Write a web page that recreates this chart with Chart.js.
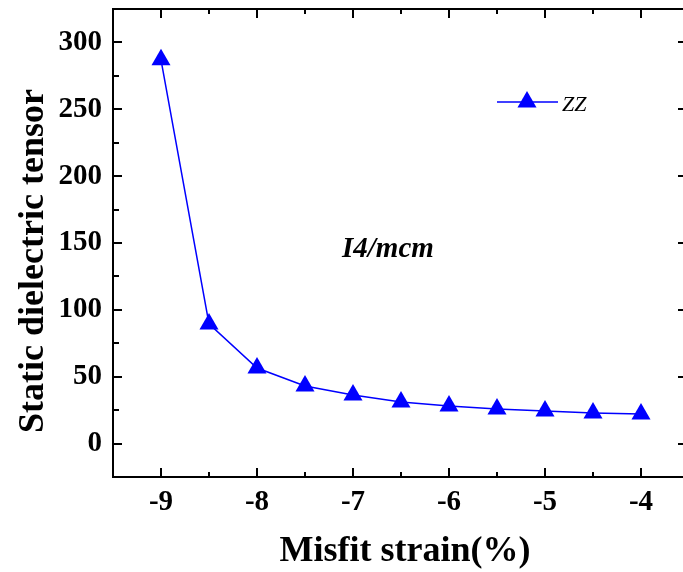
<!DOCTYPE html>
<html>
<head>
<meta charset="utf-8">
<title>Static dielectric tensor vs misfit strain</title>
<script src="https://cdn.jsdelivr.net/npm/chart.js@4/dist/chart.umd.min.js"></script>
<style>
  body { margin: 0; background: #fff; }
  canvas { display: block; }
</style>
</head>
<body>
<canvas id="chart" width="683" height="572"></canvas>
<script>
// Data
const misfitStrain = [-9, -8.5, -8, -7.5, -7, -6.5, -6, -5.5, -5, -4.5, -4];
const zzValues = [287, 89.5, 56.5, 43, 36.3, 31.1, 28.1, 25.8, 24.3, 22.9, 22.1];
const xTickValues = [-9, -8, -7, -6, -5, -4];
const yTickValues = [0, 50, 100, 150, 200, 250, 300];
const seriesLabel = 'ZZ';
const phaseLabel = 'I4/mcm';
const xTitle = 'Misfit strain(%)';
const yTitle = 'Static dielectric tensor';

const BLUE = '#0000ff';
const SERIF = '"Liberation Serif", "Times New Roman", serif';

// Inward ticks, top line, right ticks, titles, legend and label
const framePlugin = {
    id: 'frame',
    afterDraw(chart) {
        const ctx = chart.ctx;
        const area = chart.chartArea;
        const xs = chart.scales.x;
        const ys = chart.scales.y;
        ctx.save();
        ctx.strokeStyle = '#000';
        ctx.lineWidth = 2;

        // top line
        ctx.beginPath();
        ctx.moveTo(area.left - 1, area.top);
        ctx.lineTo(area.right, area.top);
        ctx.stroke();

        // x ticks (bottom and top), major every 1, minor every 0.5
        for (let v = -9.5; v <= xs.max + 1e-6; v += 0.5) {
            const px = Math.round(xs.getPixelForValue(v));
            const len = Number.isInteger(v) ? 9 : 5;
            ctx.beginPath();
            ctx.moveTo(px, area.bottom);
            ctx.lineTo(px, area.bottom - len);
            ctx.moveTo(px, area.top);
            ctx.lineTo(px, area.top + len);
            ctx.stroke();
        }

        // y ticks on the left, major every 50, minor every 25
        for (let v = -25; v <= 325; v += 25) {
            const py = Math.round(ys.getPixelForValue(v));
            const len = v % 50 === 0 ? 9 : 6;
            ctx.beginPath();
            ctx.moveTo(area.left, py);
            ctx.lineTo(area.left + len, py);
            ctx.stroke();
        }
        // right side stubs at majors
        yTickValues.forEach(v => {
            const py = Math.round(ys.getPixelForValue(v));
            ctx.beginPath();
            ctx.moveTo(area.right, py);
            ctx.lineTo(area.right - 5, py);
            ctx.stroke();
        });

        // axis titles
        ctx.fillStyle = '#000';
        ctx.font = 'bold 36px ' + SERIF;
        ctx.textAlign = 'center';
        ctx.textBaseline = 'alphabetic';
        ctx.fillText(xTitle, 405, 561);

        ctx.save();
        ctx.translate(43, 261);
        ctx.rotate(-Math.PI / 2);
        ctx.fillText(yTitle, 0, 0);
        ctx.restore();

        // legend
        const ds = chart.data.datasets[0];
        ctx.strokeStyle = BLUE;
        ctx.lineWidth = 1.5;
        ctx.beginPath();
        ctx.moveTo(497, 102);
        ctx.lineTo(558, 102);
        ctx.stroke();
        ctx.fillStyle = BLUE;
        Chart.helpers.drawPoint(ctx, { pointStyle: 'triangle', radius: 11, borderWidth: 0, rotation: 0 }, 527, 102);
        ctx.fillStyle = '#000';
        ctx.font = 'italic 22px ' + SERIF;
        ctx.textAlign = 'left';
        ctx.fillText(ds.label, 562, 111);

        // phase label
        ctx.font = 'italic bold 29px ' + SERIF;
        ctx.fillText(phaseLabel, 342, 257);

        ctx.restore();
    }
};

const tickFont = { family: SERIF, size: 29, weight: 'bold' };

new Chart(document.getElementById('chart'), {
    type: 'line',
    data: {
        datasets: [{
            label: seriesLabel,
            data: misfitStrain.map((x, i) => ({ x: x, y: zzValues[i] })),
            borderColor: BLUE,
            backgroundColor: BLUE,
            borderWidth: 1.5,
            pointStyle: 'triangle',
            pointRadius: 11,
            pointBorderWidth: 0,
            pointBackgroundColor: BLUE,
            tension: 0,
            fill: false
        }]
    },
    options: {
        responsive: false,
        animation: false,
        layout: { autoPadding: false, padding: { top: 9, right: 0, left: 0, bottom: 0 } },
        plugins: {
            legend: { display: false },
            tooltip: { enabled: false }
        },
        scales: {
            x: {
                type: 'linear',
                position: 'bottom',
                min: -9.5,
                max: -3.5625,
                grid: { display: false },
                border: { display: true, color: '#000', width: 2 },
                ticks: {
                    color: '#000',
                    font: tickFont,
                    padding: 0,
                    maxRotation: 0,
                    callback: v => String(v)
                },
                afterBuildTicks: scale => { scale.ticks = xTickValues.map(v => ({ value: v })); },
                afterFit: scale => {
                    scale.height = 95;
                    scale.paddingLeft = 0;
                    scale.paddingRight = 0;
                }
            },
            y: {
                type: 'linear',
                position: 'left',
                min: -25,
                max: 325,
                grid: { display: false },
                border: { display: true, color: '#000', width: 2 },
                ticks: {
                    color: '#000',
                    font: tickFont,
                    padding: 3,
                    callback: v => String(v)
                },
                afterBuildTicks: scale => { scale.ticks = yTickValues.map(v => ({ value: v })); },
                afterFit: scale => {
                    scale.width = 113;
                    scale.paddingTop = 0;
                    scale.paddingBottom = 0;
                }
            }
        }
    },
    plugins: [framePlugin]
});
</script>
</body>
</html>
